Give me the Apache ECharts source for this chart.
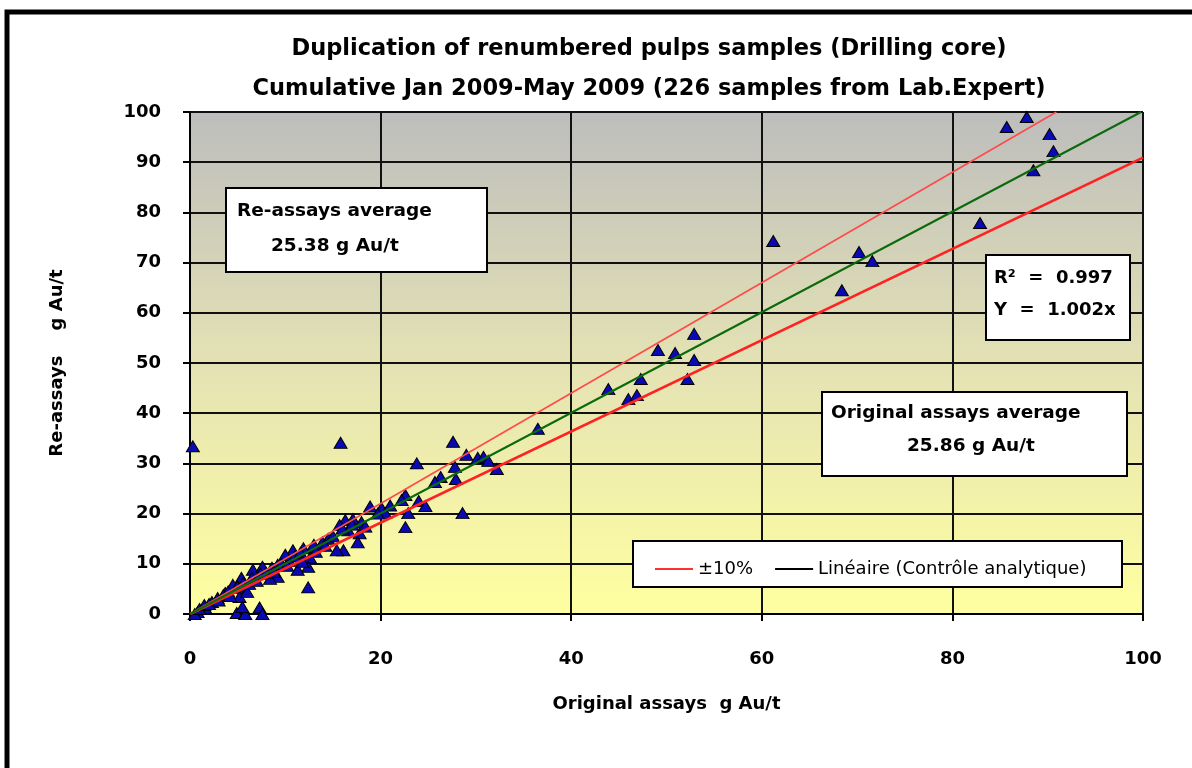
<!DOCTYPE html>
<html>
<head>
<meta charset="utf-8">
<script src="https://cdn.jsdelivr.net/npm/echarts@6/dist/echarts.min.js"></script>
<style>
html,body{margin:0;padding:0;background:#fff;}
#chart{width:1192px;height:768px;}
</style>
</head>
<body>
<div id="chart"></div>
<script>
// ---- Data ----
var titleLines = ['Duplication of renumbered pulps samples (Drilling core)', 'Cumulative Jan 2009-May 2009 (226 samples from Lab.Expert)'];
var xAxisName = 'Original assays  g Au/t';
var yAxisName = 'Re-assays    g Au/t';
var xTicks = [0, 20, 40, 60, 80, 100];
var yTicks = [0, 10, 20, 30, 40, 50, 60, 70, 80, 90, 100];
// [original, re-assay] pairs
var samples = [
  [0.3, 33.4], [15.8, 34.1], [85.7, 97.0], [87.8, 99.0], [90.2, 95.6], [90.6, 92.2],
  [88.5, 88.4], [82.9, 77.9], [61.2, 74.3], [70.2, 72.1], [71.6, 70.3], [68.4, 64.5],
  [52.9, 55.8], [49.1, 52.6], [50.9, 52.0], [52.9, 50.6], [47.3, 46.8], [52.2, 46.8],
  [43.9, 44.8], [46.0, 42.8], [46.9, 43.6], [36.5, 36.9], [27.6, 34.3], [23.8, 30.0],
  [29.0, 31.7], [30.2, 31.1], [30.8, 31.3], [31.3, 30.5], [32.2, 28.9], [27.8, 29.3],
  [26.3, 27.3], [25.7, 26.3], [27.9, 26.9], [22.6, 23.7], [22.2, 22.7], [24.0, 22.5],
  [24.7, 21.5], [22.9, 20.1], [28.6, 20.1], [20.1, 21.1], [22.6, 17.3], [18.9, 21.4],
  [20.5, 20.1], [16.3, 18.7], [17.1, 18.9], [18.0, 18.3], [15.7, 17.7], [16.6, 16.7],
  [17.8, 16.1], [17.6, 14.3], [16.1, 12.7], [15.4, 12.7], [13.9, 14.3], [12.9, 13.3],
  [11.9, 13.1], [10.8, 12.7], [10.0, 11.8], [12.6, 11.2], [12.4, 9.4], [11.3, 8.8],
  [12.4, 5.3], [6.6, 8.8], [7.6, 9.4], [8.6, 9.2], [9.2, 9.8], [5.4, 7.2],
  [4.5, 5.8], [4.9, 5.2], [3.7, 4.2], [5.2, 3.4], [2.9, 3.2], [2.3, 2.4],
  [1.6, 1.2], [0.8, 0.4], [0.5, 0.0], [4.9, 0.2], [5.8, 0.0], [7.3, 1.3],
  [7.6, 0.0], [5.5, 1.4], [6.0, 4.4], [9.2, 7.4], [8.4, 7.0],
  [1.0, 1.0], [1.5, 1.8], [2.0, 2.0], [3.0, 2.7], [3.5, 3.8], [4.0, 4.5], [4.2, 3.6],
  [5.0, 5.5], [5.6, 6.2], [6.2, 6.0], [6.5, 7.2], [7.0, 6.6], [7.4, 8.0], [8.0, 8.2],
  [8.8, 8.4], [9.6, 10.0], [10.4, 10.6], [11.0, 11.5], [11.6, 12.2], [13.0, 13.8],
  [14.5, 15.0], [15.0, 15.5], [16.0, 17.0], [17.0, 17.8], [14.2, 13.6], [13.2, 12.4],
  [10.2, 9.6], [11.8, 10.4], [19.7, 20.0], [21.0, 21.6], [18.4, 17.4]
];
var upperLine = [[0, 0], [90.91, 100]];   // +10%
var lowerLine = [[0, 0], [100, 90.91]];   // -10%
var trendLine = [[0, 0], [99.8, 100]];    // Y = 1.002x
var boxTexts = {
  reassay: ['Re-assays average', '25.38 g Au/t'],
  fit: ['R\u00B2  =  0.997', 'Y  =  1.002x'],
  original: ['Original assays average', '25.86 g Au/t']
};
var legendNames = ['\u00B110%', 'Lin\u00E9aire (Contr\u00F4le analytique)'];

// ---- Chart ----
var FONT = 'DejaVu Sans';
var chart = echarts.init(document.getElementById('chart'));

function box(x, y, w, h, lines, offsets, fs) {
  var els = [{
    type: 'rect', z: 100, shape: {x: x, y: y, width: w, height: h},
    style: {fill: '#fff', stroke: '#000', lineWidth: 2}
  }];
  lines.forEach(function (t, i) {
    els.push({
      type: 'text', z: 101, x: x + offsets[i][0], y: y + offsets[i][1],
      style: {text: t, font: 'bold ' + fs + 'px "' + FONT + '"', fill: '#000', textVerticalAlign: 'middle'}
    });
  });
  return els;
}

var graphics = [
  {type: 'rect', z: 200, shape: {x: 7, y: 12, width: 1200, height: 800}, style: {fill: 'none', stroke: '#000', lineWidth: 5}},
  {type: 'rect', z: 50, shape: {x: 633, y: 541, width: 489, height: 46}, style: {fill: '#fff', stroke: '#000', lineWidth: 2}}
].concat(
  box(226, 188, 261, 84, boxTexts.reassay, [[11, 23], [45, 58]], 18.5),
  box(986, 255, 144, 85, boxTexts.fit, [[8, 23], [8, 55]], 18),
  box(822, 392, 305, 84, boxTexts.original, [[9, 21], [85, 54]], 18.5)
);

var option = {
  backgroundColor: '#fff',
  animation: false,
  title: [
    {text: titleLines[0], left: 644, textAlign: 'center', top: 33, textStyle: {fontFamily: FONT, fontWeight: 'bold', fontSize: 22.5, color: '#000'}},
    {text: titleLines[1], left: 644, textAlign: 'center', top: 73, textStyle: {fontFamily: FONT, fontWeight: 'bold', fontSize: 22.5, color: '#000'}}
  ],
  grid: {
    left: 190, right: 49, top: 112, bottom: 154,
    show: true, borderColor: '#000', borderWidth: 1,
    backgroundColor: {
      type: 'linear', x: 0, y: 0, x2: 0, y2: 1,
      colorStops: [{offset: 0, color: '#bdbdbd'}, {offset: 0.5, color: '#e4e2b4'}, {offset: 1, color: '#ffffa0'}]
    }
  },
  legend: {
    left: 650, top: 555, z: 60,
    icon: 'rect', itemWidth: 38, itemHeight: 2, itemGap: 22,
    textStyle: {fontFamily: FONT, fontSize: 18, color: '#000'},
    data: [
      {name: legendNames[0], itemStyle: {color: '#ff3030'}},
      {name: legendNames[1], itemStyle: {color: '#000'}}
    ]
  },
  xAxis: {
    type: 'value', min: 0, max: 100, interval: 20,
    name: xAxisName, nameLocation: 'middle', nameGap: 81,
    nameTextStyle: {fontFamily: FONT, fontWeight: 'bold', fontSize: 18, color: '#000'},
    axisLine: {show: true, lineStyle: {color: '#000', width: 2}},
    axisTick: {show: true, length: 7, lineStyle: {color: '#000', width: 2}},
    axisLabel: {margin: 36, fontFamily: FONT, fontWeight: 'bold', fontSize: 18, color: '#000',
      formatter: function (v) { return xTicks.indexOf(v) >= 0 ? String(v) : ''; }},
    splitLine: {show: true, lineStyle: {color: '#111', width: 2}}
  },
  yAxis: {
    type: 'value', min: 0, max: 100, interval: 10,
    name: yAxisName, nameLocation: 'middle', nameGap: 124, nameRotate: 90,
    nameTextStyle: {fontFamily: FONT, fontWeight: 'bold', fontSize: 18, color: '#000'},
    axisLine: {show: true, lineStyle: {color: '#000', width: 2}},
    axisTick: {show: true, length: 7, lineStyle: {color: '#000', width: 2}},
    axisLabel: {margin: 29, fontFamily: FONT, fontWeight: 'bold', fontSize: 18, color: '#000',
      formatter: function (v) { return yTicks.indexOf(v) >= 0 ? String(v) : ''; }},
    splitLine: {show: true, lineStyle: {color: '#111', width: 2}}
  },
  series: [
    {
      name: 'Contrôle analytique', type: 'scatter', data: samples,
      symbol: 'triangle', symbolSize: [13, 11],
      itemStyle: {color: '#0a0ab4', borderColor: '#000', borderWidth: 1, opacity: 1},
      z: 3
    },
    {
      name: legendNames[0], type: 'line', data: upperLine, symbol: 'none',
      lineStyle: {color: '#ff4a4a', width: 1.6}, z: 4
    },
    {
      name: legendNames[0], type: 'line', data: lowerLine, symbol: 'none',
      lineStyle: {color: '#ff2222', width: 2.6}, z: 4
    },
    {
      name: legendNames[1], type: 'line', data: trendLine, symbol: 'none',
      lineStyle: {color: '#0b6a0b', width: 2}, z: 5
    }
  ],
  graphic: graphics
};
chart.setOption(option);
</script>
</body>
</html>
